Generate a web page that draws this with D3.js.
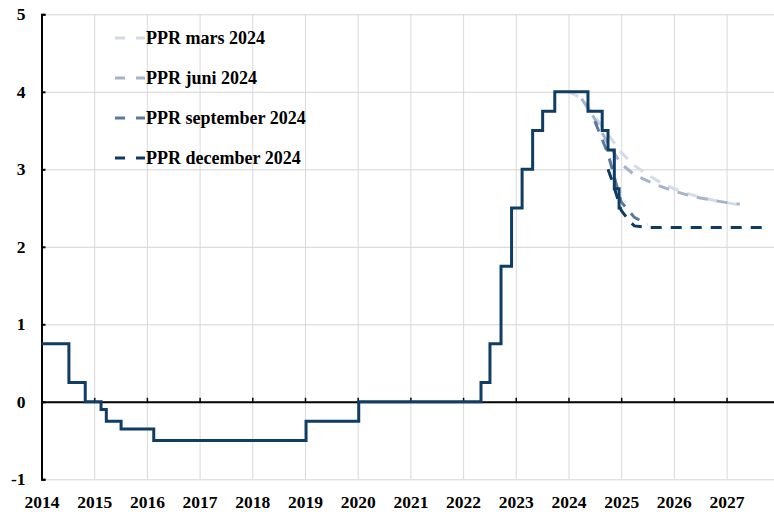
<!DOCTYPE html>
<html>
<head>
<meta charset="utf-8">
<script src="https://cdn.jsdelivr.net/npm/d3@7"></script>
<style>
  body { margin: 0; background: #fff; }
  svg text { font-family: "Liberation Serif", "Times New Roman", serif; font-weight: bold; fill: #000; }
</style>
</head>
<body>
<svg id="chart" width="774" height="512"></svg>
<script>
// policy rate (decimal year of each change)
var rateDates  = [2014.0, 2014.52, 2014.83, 2015.13, 2015.23, 2015.51, 2016.13, 2019.02, 2020.02,
                  2022.34, 2022.51, 2022.72, 2022.92, 2023.12, 2023.32, 2023.51, 2023.74,
                  2024.37, 2024.64, 2024.75, 2024.87, 2024.96, 2025.0];
var rateValues = [0.75, 0.25, 0, -0.10, -0.25, -0.35, -0.50, -0.25, 0,
                  0.25, 0.75, 1.75, 2.50, 3.00, 3.50, 3.75, 4.00,
                  3.75, 3.50, 3.25, 2.75, 2.50, 2.50];

// forecasts
var marsDates  = [2024.0, 2024.25, 2024.5, 2024.75, 2025.0, 2025.25, 2025.5, 2025.75, 2026.0, 2026.25, 2026.5, 2026.75, 2027.0, 2027.25];
var marsValues = [4.00, 3.92, 3.68, 3.45, 3.22, 3.05, 2.93, 2.83, 2.75, 2.69, 2.64, 2.60, 2.57, 2.54];

var juniDates  = [2024.25, 2024.5, 2024.75, 2025.0, 2025.25, 2025.5, 2025.75, 2026.0, 2026.25, 2026.5, 2026.75, 2027.0, 2027.25];
var juniValues = [3.91, 3.65, 3.33, 3.07, 2.93, 2.85, 2.78, 2.72, 2.67, 2.63, 2.60, 2.57, 2.55];

var septDates  = [2024.5, 2024.75, 2025.0, 2025.25, 2025.5];
var septValues = [3.62, 3.20, 2.58, 2.38, 2.29];

var decDates   = [2024.75, 2024.83, 2024.92, 2025.0, 2025.08, 2025.17, 2025.25, 2025.5, 2025.75, 2026.0,
                  2026.25, 2026.5, 2026.75, 2027.0, 2027.25, 2027.5, 2027.8];
var decValues  = [3.00, 2.85, 2.65, 2.47, 2.40, 2.32, 2.27, 2.25, 2.25, 2.25,
                  2.25, 2.25, 2.25, 2.25, 2.25, 2.25, 2.25];

var seriesNames  = ["PPR mars 2024", "PPR juni 2024", "PPR september 2024", "PPR december 2024"];
var seriesColors = ["#d3dbe6", "#a5b4cb", "#5e779d", "#0e3b61"];
var yearTicks = [2014, 2015, 2016, 2017, 2018, 2019, 2020, 2021, 2022, 2023, 2024, 2025, 2026, 2027];
var valueTicks = [-1, 0, 1, 2, 3, 4, 5];

var svg = d3.select("#chart");

var x = d3.scaleLinear().domain([2014, 2027.9]).range([41.5, 774]);
var y = d3.scaleLinear().domain([-1, 5]).range([479.3, 14.3]);

// gridlines
svg.append("g")
    .attr("transform", "translate(0," + y(-1) + ")")
    .call(d3.axisBottom(x).tickValues(yearTicks.slice(1)).tickSize(-(y(-1) - y(5))).tickFormat(""))
    .call(function(g) { g.select(".domain").remove(); })
    .selectAll("line").attr("stroke", "#d9d9d9");

svg.append("g")
    .attr("transform", "translate(" + x(2014) + ",0)")
    .call(d3.axisLeft(y).tickValues(valueTicks).tickSize(-(774 - x(2014))).tickFormat(""))
    .call(function(g) { g.select(".domain").remove(); })
    .selectAll("line").attr("stroke", "#d4d4d4");

// zero line with small ticks
svg.append("g")
    .attr("transform", "translate(0," + y(0) + ")")
    .call(d3.axisBottom(x).tickValues(yearTicks).tickSizeInner(-4).tickSizeOuter(0).tickFormat(""))
    .call(function(g) {
        g.select(".domain").attr("stroke", "#000").attr("stroke-width", 2);
        g.selectAll("line").attr("stroke", "#000").attr("stroke-width", 1.5);
    });

// y axis
svg.append("g")
    .attr("transform", "translate(" + x(2014) + ",0)")
    .call(d3.axisLeft(y).tickValues(valueTicks).tickSizeInner(-4).tickSizeOuter(-4).tickFormat(""))
    .call(function(g) {
        g.select(".domain").attr("stroke", "#000").attr("stroke-width", 2);
        g.selectAll("line").attr("stroke", "#000").attr("stroke-width", 2);
    });

// tick labels
svg.append("g")
    .attr("transform", "translate(" + x(2014) + ",0)")
    .call(d3.axisLeft(y).tickValues(valueTicks).tickSize(0).tickPadding(16).tickFormat(function(d) { return String(d); }))
    .call(function(g) { g.select(".domain").remove(); })
    .selectAll("text").style("font-size", "17.5px");

svg.append("g")
    .attr("transform", "translate(0,496)")
    .call(d3.axisBottom(x).tickValues(yearTicks).tickSize(0).tickPadding(0).tickFormat(function(d) { return String(d); }))
    .call(function(g) { g.select(".domain").remove(); })
    .selectAll("text").style("font-size", "17.5px");

// forecast lines
var line = d3.line()
    .x(function(d) { return x(d[0]); })
    .y(function(d) { return y(d[1]); });

var forecasts = [
    d3.zip(marsDates, marsValues),
    d3.zip(juniDates, juniValues),
    d3.zip(septDates, septValues),
    d3.zip(decDates, decValues)
];

forecasts.forEach(function(f, i) {
    svg.append("path")
        .attr("d", line(f))
        .attr("fill", "none")
        .attr("stroke", seriesColors[i])
        .attr("stroke-width", 3)
        .attr("stroke-dasharray", "11,9");
});

// policy rate, step line
var step = d3.line()
    .x(function(d) { return x(d[0]); })
    .y(function(d) { return y(d[1]); })
    .curve(d3.curveStepAfter);

svg.append("path")
    .attr("d", step(d3.zip(rateDates, rateValues)))
    .attr("fill", "none")
    .attr("stroke", "#0f3d64")
    .attr("stroke-width", 3);

// legend
var legend = svg.append("g").selectAll("g")
    .data(seriesNames)
    .enter().append("g")
    .attr("transform", function(d, i) { return "translate(0," + (38 + i * 40) + ")"; });

legend.append("line")
    .attr("x1", 115).attr("x2", 145)
    .attr("stroke", function(d, i) { return seriesColors[i]; })
    .attr("stroke-width", 3)
    .attr("stroke-dasharray", "10,11");

legend.append("text")
    .attr("x", 146)
    .attr("y", 5.5)
    .style("font-size", "18px")
    .text(function(d) { return d; });
</script>
</body>
</html>
